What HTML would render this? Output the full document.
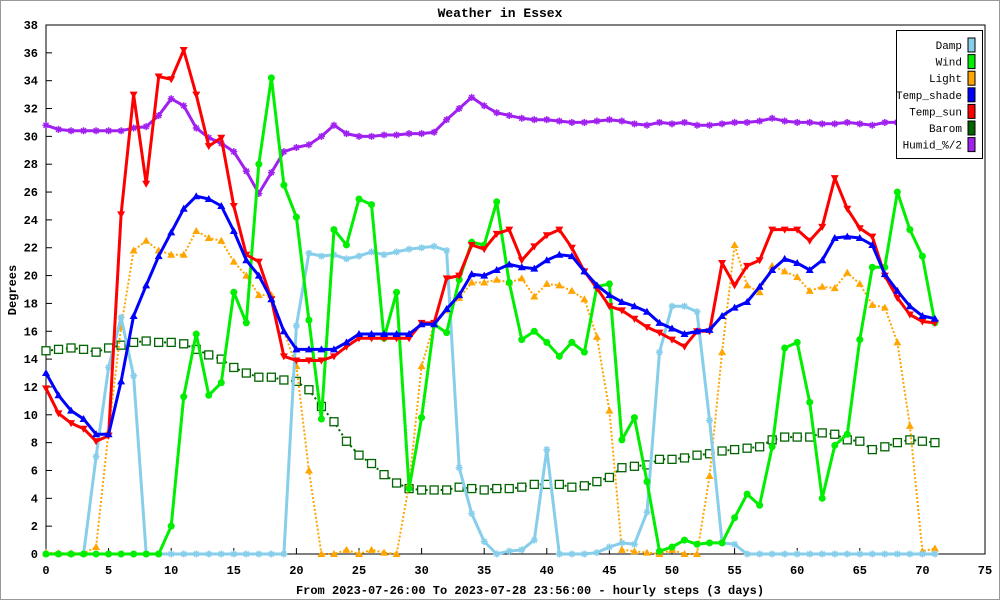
<!DOCTYPE html>
<html><head><meta charset="utf-8"><style>
html,body{margin:0;padding:0;background:#fff}
svg{display:block}
text{font-family:"Liberation Mono",monospace;font-size:12px;font-weight:bold;fill:#000}
</style></head><body>
<svg id="chart" width="1000" height="600" viewBox="0 0 1000 600" xmlns="http://www.w3.org/2000/svg">
<rect x="0.5" y="0.5" width="999" height="599" fill="#fff" stroke="#999"/>
<g id="grid"></g>
<g id="axes"></g>
<g id="series"></g>
<text x="500" y="17" text-anchor="middle" style="font-size:13px">Weather in Essex</text>
<text x="530" y="594" text-anchor="middle">From 2023-07-26:00 To 2023-07-28 23:56:00 - hourly steps (3 days)</text>
<text x="16" y="290" text-anchor="middle" transform="rotate(-90 16 290)">Degrees</text>
<g id="legend"></g>
</svg>
<script>
const xTicks=[0,5,10,15,20,25,30,35,40,45,50,55,60,65,70,75];
const yTicks=[0,2,4,6,8,10,12,14,16,18,20,22,24,26,28,30,32,34,36,38];
const damp=[0,0,0,0,7,13.4,17,12.8,0,0,0,0,0,0,0,0,0,0,0,0,16.4,21.6,21.4,21.5,21.2,21.4,21.7,21.5,21.7,21.9,22,22.1,21.8,6.2,2.9,0.9,0,0.2,0.3,1,7.5,0,0,0,0.1,0.5,0.8,0.7,3,14.5,17.8,17.8,17.4,9.6,0.8,0.7,0,0,0,0,0,0,0,0,0,0,0,0,0,0,0,0];
const wind=[0,0,0,0,0,0,0,0,0,0,2,11.3,15.8,11.4,12.3,18.8,16.6,28,34.2,26.5,24.2,16.8,9.7,23.3,22.2,25.5,25.1,15.5,18.8,4.7,9.8,16.5,15.9,19.7,22.4,22.2,25.3,19.5,15.4,16,15.2,14.2,15.2,14.5,19.2,19.4,8.2,9.8,5.2,0.2,0.5,1,0.7,0.8,0.8,2.6,4.3,3.5,7.7,14.8,15.2,10.9,4,7.8,8.6,15.4,20.6,20.6,26,23.3,21.4,16.6];
const light=[0.1,0.05,0.05,0.05,0.5,8.8,16.3,21.8,22.5,21.8,21.5,21.5,23.2,22.7,22.5,21,20,18.6,18.6,16,13.5,6,0,0,0.3,0,0.3,0.1,0,5,13.5,16.5,17.5,18.4,19.5,19.5,19.7,19.5,19.8,18.5,19.4,19.3,18.9,18.3,15.6,10.3,0.3,0.2,0.1,0,0.3,0,0,5.6,14.5,22.2,19.3,18.8,20.7,20.3,19.9,18.9,19.2,19.1,20.2,19.4,17.9,17.7,15.2,9.2,0.2,0.4];
const tempShade=[13,11.4,10.3,9.7,8.6,8.6,12.4,17.1,19.3,21.4,23.1,24.8,25.7,25.5,25,23.2,21.1,20,18.3,16,14.7,14.7,14.7,14.7,15.2,15.8,15.8,15.8,15.8,15.8,16.5,16.5,17.6,18.6,20.1,20,20.4,20.8,20.6,20.5,21.1,21.5,21.4,20.3,19.3,18.6,18.1,17.8,17.4,16.6,16.2,15.8,16,16.1,17.1,17.7,18.1,19.2,20.4,21.2,20.9,20.4,21.1,22.7,22.8,22.7,22.2,20.1,18.9,17.8,17.1,16.9];
const tempSun=[11.9,10.1,9.4,9,8.1,8.5,24.4,33,26.6,34.3,34.1,36.2,33,29.3,29.9,25,21.5,21,18.3,14.2,13.9,13.9,13.9,14.2,14.9,15.5,15.5,15.5,15.5,15.5,16.6,16.6,19.8,20,22.2,21.9,23,23.3,21.1,22.1,22.9,23.3,22,20.3,19.1,17.8,17.5,16.9,16.3,15.9,15.4,14.9,16,16,20.9,19.3,20.7,21.1,23.3,23.3,23.3,22.5,23.5,27,24.8,23.4,22.8,20,18.4,17.2,16.7,16.6];
const barom=[14.6,14.7,14.8,14.7,14.5,14.8,15,15.2,15.3,15.2,15.2,15.1,14.7,14.3,14,13.4,13,12.7,12.7,12.5,12.4,11.8,10.6,9.5,8.1,7.1,6.5,5.7,5.1,4.7,4.6,4.6,4.6,4.8,4.7,4.6,4.7,4.7,4.8,5,5,5,4.8,4.9,5.2,5.5,6.2,6.3,6.4,6.8,6.8,6.9,7.1,7.2,7.4,7.5,7.6,7.7,8.2,8.4,8.4,8.4,8.7,8.6,8.2,8.1,7.5,7.7,8,8.2,8.1,8];
const humid=[30.8,30.5,30.4,30.4,30.4,30.4,30.4,30.6,30.7,31.5,32.7,32.2,30.6,29.9,29.5,28.9,27.5,25.9,27.4,28.9,29.2,29.4,30,30.8,30.2,30,30,30.1,30.1,30.2,30.2,30.3,31.2,32,32.8,32.2,31.7,31.5,31.3,31.2,31.2,31.1,31,31,31.1,31.2,31.1,30.9,30.8,31,30.9,31,30.8,30.8,30.9,31,31,31.1,31.3,31.1,31,31,30.9,30.9,31,30.9,30.8,31,31,31,31,31];
const seriesNames=["Damp","Wind","Light","Temp_shade","Temp_sun","Barom","Humid_%/2"];

const NS="http://www.w3.org/2000/svg";
const X0=46,X1=985,Y0=554,Y1=25,XMAX=75,YMAX=38;
function sx(v){return X0+(X1-X0)*v/XMAX;}
function sy(v){return Y0-(Y0-Y1)*v/YMAX;}
function mk(tag,attrs,parent){const e=document.createElementNS(NS,tag);for(const k in attrs)e.setAttribute(k,attrs[k]);parent.appendChild(e);return e;}
const grid=document.getElementById('grid'),axes=document.getElementById('axes'),ser=document.getElementById('series'),leg=document.getElementById('legend');
mk('rect',{x:X0,y:Y1,width:X1-X0,height:Y0-Y1,fill:'#fff',stroke:'#000','stroke-width':1},axes);
xTicks.forEach(t=>{
  const x=sx(t);
  if(t>0&&t<XMAX){const l=mk('line',{x1:x,x2:x,y1:Y1,y2:Y0,stroke:'#c0c0c0','stroke-dasharray':'3,3'},grid);
  
  }
  mk('line',{x1:x,x2:x,y1:Y0,y2:Y0-6,stroke:'#000'},axes);
  const tx=mk('text',{x:x,y:Y0+20,'text-anchor':'middle'},axes);tx.textContent=t;
  
  
});
yTicks.forEach(t=>{
  const y=sy(t);
  if(t>0&&t<YMAX){const l=mk('line',{x1:X0,x2:X1,y1:y,y2:y,stroke:'#c0c0c0','stroke-dasharray':'3,3'},grid);
  
  }
  mk('line',{x1:X0,x2:X0+6,y1:y,y2:y,stroke:'#000'},axes);
  const tx=mk('text',{x:X0-8,y:y+4,'text-anchor':'end'},axes);tx.textContent=t;
  
  
});
function marker(type,x,y,col,g){
  if(type==='circle')mk('circle',{cx:x,cy:y,r:3.5,fill:col},g);
  else if(type==='tri')mk('polygon',{points:`${x},${y-4} ${x-4},${y+3} ${x+4},${y+3}`,fill:col},g);
  else if(type==='trid')mk('polygon',{points:`${x},${y+4} ${x-4},${y-3} ${x+4},${y-3}`,fill:col},g);
  else if(type==='sq')mk('rect',{x:x-4,y:y-4,width:8,height:8,fill:'#fff',stroke:col,'stroke-width':1.3},g);
  else if(type==='sqf')mk('rect',{x:x-4,y:y-4,width:8,height:8,fill:col},g);
  else if(type==='star'){mk('path',{d:`M${x-3.5},${y}H${x+3.5}M${x},${y-3.5}V${y+3.5}M${x-2.5},${y-2.5}L${x+2.5},${y+2.5}M${x-2.5},${y+2.5}L${x+2.5},${y-2.5}`,stroke:col,'stroke-width':1.5},g);}
}
function drawSeries(name,data,col,width,dash,mtype){
  const g=mk('g',{},ser);
  
  
  const pts=data.map((v,i)=>sx(i).toFixed(1)+','+sy(v).toFixed(1)).join(' ');
  const a={points:pts,fill:'none',stroke:col,'stroke-width':width,'stroke-linejoin':'round'};
  if(dash)a['stroke-dasharray']=dash;
  mk('polyline',a,g);
  data.forEach((v,i)=>marker(mtype,sx(i),sy(v),col,g));
}
drawSeries('Barom',barom,'#006400',2,'2,3','sq');
drawSeries('Light',light,'#ffa500',2,'2,2','tri');
drawSeries('Damp',damp,'#87ceeb',3,null,'star');
drawSeries('Humid',humid,'#a020f0',3,null,'star');
drawSeries('Wind',wind,'#00ee00',3,null,'circle');
drawSeries('Temp_sun',tempSun,'#ff0000',3,null,'trid');
drawSeries('Temp_shade',tempShade,'#0000ff',3,null,'tri');
// re-draw temp_sun over late points to match layering
const lcols=['#87ceeb','#00ee00','#ffa500','#0000ff','#ff0000','#006400','#a020f0'];
mk('rect',{x:896.5,y:30.5,width:86,height:128,fill:'#fff',stroke:'#000'},leg);
seriesNames.forEach((n,i)=>{
  const y=45+i*16.6;
  const t=mk('text',{x:962,y:y+4,'text-anchor':'end',style:'font-weight:normal;font-size:11px'},leg);t.textContent=n;
  
  
  const r=mk('rect',{x:968,y:y-7,width:7,height:14,fill:lcols[i],stroke:'#000'},leg);
  
  
});
</script>
</body></html>
